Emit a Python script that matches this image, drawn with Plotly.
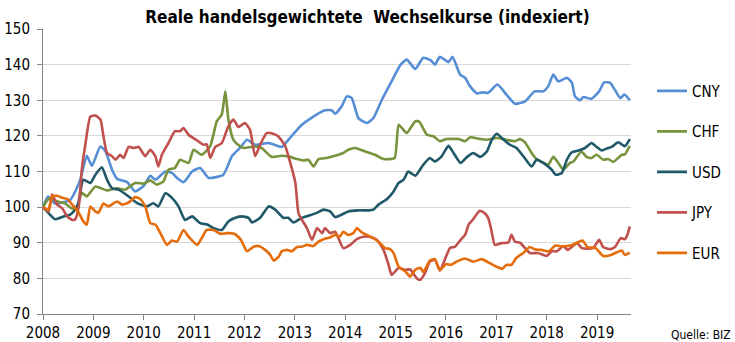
import plotly.graph_objects as go

# ---- data (decimal years, index values) ----
years = [2008, 2009, 2010, 2011, 2012, 2013, 2014, 2015, 2016, 2017, 2018, 2019]
year_labels = [str(y) for y in years]
series_names = ["CNY", "CHF", "USD", "JPY", "EUR"]

cny_t = [2008.0, 2008.1, 2008.24, 2008.54, 2008.64, 2008.74, 2008.87, 2008.97, 2009.14, 2009.24, 2009.37, 2009.47,
         2009.67, 2009.83, 2010.0, 2010.13, 2010.23, 2010.43, 2010.56, 2010.66, 2010.79, 2010.96, 2011.12, 2011.29,
         2011.58, 2011.75, 2011.91, 2012.05, 2012.21, 2012.48, 2012.74, 2012.87, 2013.14, 2013.4, 2013.6, 2013.73,
         2013.8, 2013.93, 2014.03, 2014.13, 2014.26, 2014.43, 2014.56, 2014.73, 2014.92, 2015.1, 2015.22, 2015.39,
         2015.55, 2015.7, 2015.78, 2015.88, 2016.05, 2016.13, 2016.28, 2016.38, 2016.48, 2016.62, 2016.72, 2016.84,
         2017.02, 2017.2, 2017.37, 2017.57, 2017.76, 2017.93, 2018.03, 2018.13, 2018.23, 2018.4, 2018.5, 2018.56,
         2018.66, 2018.73, 2018.89, 2019.04, 2019.14, 2019.26, 2019.46, 2019.54, 2019.65]
cny_v = [100, 103, 101, 102, 104.4, 107.7, 114.4, 111.6, 117, 115.7, 110.5, 108,
         107, 104.4, 106, 108.8, 107.7, 110, 109.6, 108.2, 107, 110, 111, 108.2,
         109.1, 114.3, 116.6, 118.9, 117.5, 118, 116.9, 118.9, 123.1, 125.7, 127.2, 127.2,
         126.2, 128.3, 131.1, 130.6, 125, 123.6, 125, 130.2, 135.3, 140, 141.4, 138.8,
         141.9, 141.2, 140, 142.2, 140.7, 142.2, 137.2, 136.3, 133.9, 131.9, 132.2, 132.1,
         134.4, 131.6, 129, 129.7, 132.5, 132.5, 133.9, 137.2, 135.3, 136.3, 134.9, 131.1,
         130, 130.9, 130.4, 132.5, 135, 134.9, 130.6, 131.6, 130]

chf_t = [2008.0, 2008.12, 2008.31, 2008.44, 2008.58, 2008.68, 2008.77, 2008.87, 2009.04, 2009.27, 2009.47, 2009.63,
         2009.83, 2010.0, 2010.13, 2010.26, 2010.39, 2010.49, 2010.62, 2010.72, 2010.89, 2010.99, 2011.15, 2011.32,
         2011.45, 2011.55, 2011.62, 2011.68, 2011.78, 2011.91, 2011.98, 2012.21, 2012.34, 2012.54, 2012.74, 2012.91,
         2013.04, 2013.17, 2013.27, 2013.37, 2013.47, 2013.63, 2013.8, 2013.96, 2014.06, 2014.2, 2014.36, 2014.59,
         2014.76, 2014.98, 2015.06, 2015.22, 2015.39, 2015.47, 2015.62, 2015.75, 2015.88, 2016.01, 2016.25, 2016.38,
         2016.48, 2016.68, 2016.81, 2017.01, 2017.2, 2017.37, 2017.47, 2017.57, 2017.7, 2017.8, 2017.93, 2018.03,
         2018.13, 2018.23, 2018.33, 2018.46, 2018.53, 2018.69, 2018.79, 2018.89, 2018.99, 2019.12, 2019.22, 2019.32,
         2019.49, 2019.55, 2019.65]
chf_v = [100, 102.4, 101.5, 101, 99.6, 100, 104, 103, 105.8, 104.7, 105.3, 104.9,
         106.8, 106.6, 107.5, 106.3, 107.2, 110.5, 111, 113.3, 112.4, 116.1, 114.7, 117.1,
         124.1, 126, 132.5, 124.6, 118.9, 117.1, 116.6, 117, 116.6, 114.1, 114.4, 114.1,
         113.5, 113.1, 113.3, 111.4, 113.5, 113.8, 114.4, 115.2, 116.1, 116.6, 115.8, 114.7,
         113.5, 113.8, 123.1, 120.8, 124.1, 124, 120.3, 119.9, 118.5, 119.1, 119.1, 118.5,
         119.6, 119.1, 118.9, 119.4, 118.9, 118.5, 119.1, 118.2, 115.2, 113.5, 112.5, 111.9,
         114.1, 112.4, 110.5, 112.4, 112.8, 115.6, 114.1, 113.8, 114.7, 113.3, 113.5, 112.7,
         114.7, 114.8, 117.2]

usd_t = [2008.0, 2008.11, 2008.24, 2008.41, 2008.54, 2008.61, 2008.7, 2008.8, 2008.94, 2009.04, 2009.17, 2009.27,
         2009.37, 2009.5, 2009.7, 2009.87, 2010.06, 2010.19, 2010.29, 2010.43, 2010.56, 2010.69, 2010.82, 2010.96,
         2011.12, 2011.26, 2011.39, 2011.55, 2011.68, 2011.82, 2011.95, 2012.08, 2012.15, 2012.31, 2012.48, 2012.61,
         2012.77, 2012.87, 2012.97, 2013.14, 2013.27, 2013.44, 2013.57, 2013.7, 2013.8, 2013.93, 2014.06, 2014.26,
         2014.46, 2014.56, 2014.66, 2014.83, 2014.96, 2015.06, 2015.16, 2015.25, 2015.39, 2015.55, 2015.68, 2015.78,
         2015.91, 2016.05, 2016.15, 2016.29, 2016.42, 2016.54, 2016.68, 2016.81, 2016.91, 2017.01, 2017.11, 2017.27,
         2017.4, 2017.54, 2017.7, 2017.8, 2017.93, 2018.1, 2018.18, 2018.3, 2018.4, 2018.5, 2018.63, 2018.76,
         2018.89, 2018.99, 2019.09, 2019.22, 2019.29, 2019.42, 2019.55, 2019.65]
usd_v = [100, 98.3, 96.6, 97.4, 97.9, 98.8, 101.1, 107.7, 106.8, 109.1, 111.2, 107.7,
         105.3, 104.9, 103, 101.1, 100.2, 101.1, 100.2, 103.9, 102.6, 100.2, 96.4, 97.4,
         95.5, 95.1, 94.1, 93.6, 96, 97, 97.4, 97, 95.7, 97, 100.2, 99.3,
         97, 97, 95.7, 97, 97.6, 98.4, 99.3, 98.8, 97.2, 97.9, 98.8, 99.1,
         99.1, 99.3, 100.7, 102.3, 104.4, 106.8, 107.7, 110, 108.8, 111.9, 113.8, 112.8,
         114.2, 117.2, 115.2, 112.4, 114.1, 115.2, 114.1, 115.6, 118.9, 120.6, 119.4, 117.5,
         116.6, 114.2, 111.4, 113.3, 112.4, 110.5, 109.1, 109.6, 113.3, 115.4, 115.9, 116.6,
         118, 116.9, 115.9, 116.6, 116.9, 118.2, 117.1, 119.1]

jpy_t = [2008.0, 2008.11, 2008.18, 2008.28, 2008.38, 2008.48, 2008.58, 2008.64, 2008.71, 2008.77, 2008.84, 2008.94,
         2009.04, 2009.14, 2009.2, 2009.27, 2009.37, 2009.44, 2009.53, 2009.6, 2009.7, 2009.8, 2009.9, 2010.03,
         2010.13, 2010.23, 2010.29, 2010.36, 2010.49, 2010.62, 2010.72, 2010.79, 2010.89, 2011.06, 2011.19, 2011.25,
         2011.32, 2011.42, 2011.55, 2011.68, 2011.78, 2011.88, 2012.01, 2012.11, 2012.21, 2012.31, 2012.44, 2012.57,
         2012.67, 2012.81, 2012.91, 2013.01, 2013.07, 2013.14, 2013.24, 2013.34, 2013.44, 2013.54, 2013.6, 2013.7,
         2013.8, 2013.96, 2014.1, 2014.23, 2014.36, 2014.49, 2014.63, 2014.76, 2014.86, 2014.92, 2015.06, 2015.19,
         2015.29, 2015.42, 2015.49, 2015.58, 2015.68, 2015.78, 2015.88, 2016.0, 2016.08, 2016.18, 2016.29, 2016.38,
         2016.45, 2016.54, 2016.67, 2016.77, 2016.84, 2016.9, 2016.97, 2017.1, 2017.24, 2017.3, 2017.37, 2017.47,
         2017.57, 2017.67, 2017.83, 2018.0, 2018.1, 2018.2, 2018.33, 2018.42, 2018.6, 2018.7, 2018.92, 2019.04,
         2019.12, 2019.26, 2019.36, 2019.47, 2019.55, 2019.6, 2019.65]
jpy_v = [100, 98.8, 103.5, 100.7, 99.7, 97.4, 96.4, 96.6, 100.2, 110.5, 117.5, 125.4,
         125.7, 124.6, 119.9, 115.2, 114.3, 113.3, 114.7, 113.8, 116.9, 116.6, 116.9, 114.3,
         116.1, 114.3, 111.4, 114.7, 118, 121.3, 121.3, 122.2, 120.3, 118.7, 117.5, 117.6,
         113.8, 116.9, 118, 122.7, 124.6, 122.5, 123.6, 121.7, 114.3, 117.5, 120.8, 120.6,
         119.9, 117.1, 112.4, 106.8, 98.4, 96.4, 94.1, 90.8, 94.1, 92.7, 94.1, 92.7,
         93.1, 88.5, 89.4, 91, 91.7, 91.7, 90.8, 88, 83.8, 81, 82.9, 82.4,
         82.5, 80, 79.6, 81.4, 84.7, 85.2, 82.2, 86.1, 88.5, 88.9, 90.8, 92.2,
         95.1, 96.6, 99, 98.3, 96.9, 93.6, 89.4, 89.9, 90.1, 92.2, 90.3, 90,
         88.5, 87.1, 87.1, 86.3, 87.6, 87.6, 89, 88, 89.9, 88.5, 88.5, 90.8,
         88.8, 88.2, 88.9, 91.3, 91, 92.2, 94.6]

eur_t = [2008.0, 2008.11, 2008.18, 2008.28, 2008.38, 2008.48, 2008.58, 2008.71, 2008.8, 2008.87, 2008.94, 2009.04,
         2009.1, 2009.2, 2009.3, 2009.47, 2009.57, 2009.7, 2009.83, 2009.93, 2010.03, 2010.13, 2010.23, 2010.33,
         2010.46, 2010.56, 2010.66, 2010.79, 2010.89, 2011.06, 2011.15, 2011.25, 2011.39, 2011.52, 2011.65, 2011.78,
         2011.85, 2011.93, 2012.05, 2012.18, 2012.28, 2012.41, 2012.51, 2012.58, 2012.68, 2012.74, 2012.84, 2012.94,
         2013.04, 2013.14, 2013.24, 2013.37, 2013.47, 2013.57, 2013.7, 2013.8, 2013.89, 2013.96, 2014.06, 2014.16,
         2014.23, 2014.33, 2014.43, 2014.56, 2014.66, 2014.79, 2014.89, 2014.96, 2015.06, 2015.19, 2015.29, 2015.39,
         2015.49, 2015.55, 2015.68, 2015.78, 2015.88, 2016.0, 2016.1, 2016.21, 2016.38, 2016.54, 2016.71, 2016.84,
         2016.97, 2017.12, 2017.2, 2017.3, 2017.4, 2017.54, 2017.66, 2017.77, 2017.9, 2018.04, 2018.17, 2018.3,
         2018.49, 2018.6, 2018.71, 2018.81, 2018.97, 2019.12, 2019.26, 2019.36, 2019.49, 2019.55, 2019.65]
eur_v = [100, 99.3, 103, 103.2, 102.6, 102.3, 100.7, 98.4, 96, 95.1, 100.2, 98.8,
         98.4, 101, 100.2, 101.6, 100.7, 101.3, 102.8, 102.3, 100.2, 95.5, 95.1, 92.7,
         89.4, 90.6, 90.3, 93.6, 91.7, 89.4, 91.3, 93.6, 93.6, 92.5, 92.7, 92.6,
         92, 90.8, 87.6, 88.9, 89.1, 88, 86.6, 85, 86.1, 87.6, 88, 87.6,
         88.8, 88.9, 89.4, 89.1, 90.3, 91, 91.5, 92.2, 91.7, 93.1, 92.2, 92.7,
         94.1, 92.9, 92.2, 91.3, 90.3, 88.5, 88.2, 87.1, 83.3, 82, 80.5, 82.4,
         83, 81.8, 85, 85.4, 82.3, 84, 83.8, 84.7, 85.6, 84.7, 85.4, 84.5,
         83.5, 82.7, 83.8, 83.8, 85.8, 87.2, 88.8, 88.1, 88, 87.6, 89.2, 89,
         89.3, 90, 90.6, 88.8, 88.5, 86.3, 86.5, 87.1, 87.8, 86.6, 87.2]

series_t = [cny_t, chf_t, usd_t, jpy_t, eur_t]
series_v = [cny_v, chf_v, usd_v, jpy_v, eur_v]
colors = ["#558ED5", "#77933C", "#1F5968", "#C0504D", "#E46C0A"]

FONT = "Liberation Sans Narrow, DejaVu Sans Condensed, Arial Narrow, sans-serif"

fig = go.Figure()
for name, t, v, c in zip(series_names, series_t, series_v, colors):
    fig.add_trace(go.Scatter(
        x=t, y=v, mode="lines", name=name, legendgroup=name,
        line=dict(color=c, width=2.6, shape="spline", smoothing=0.5),
    ))

fig.update_layout(
    width=735, height=342,
    margin=dict(l=43, r=104, t=29, b=28, autoexpand=False),
    paper_bgcolor="white", plot_bgcolor="white",
    title=dict(text="Reale handelsgewichtete  Wechselkurse (indexiert)",
               x=0.5, xanchor="center", xref="container",
               y=1 - 17 / 342, yanchor="middle", yref="container",
               font=dict(family=FONT, size=17, color="#000000", weight="bold")),
    font=dict(family=FONT, size=15, color="#000000"),
    showlegend=True,
    legend=dict(x=(652 - 43) / 588, xanchor="left", y=(314 - 75) / 284.5, yanchor="top",
                traceorder="grouped", tracegroupgap=18,
                font=dict(family=FONT, size=15, color="#000000"),
                bgcolor="rgba(0,0,0,0)"),
    xaxis=dict(range=[2008, 2019.673], tickmode="array", tickvals=years, ticktext=year_labels,
               showgrid=False, zeroline=False, showline=True, linecolor="#868686", linewidth=1,
               ticks="outside", ticklen=5, tickcolor="#868686",
               tickfont=dict(family=FONT, size=15, color="#000000")),
    yaxis=dict(range=[70, 150], tickmode="linear", tick0=70, dtick=10,
               showgrid=True, gridcolor="#D9D9D9", gridwidth=1, zeroline=False,
               showline=True, linecolor="#868686", linewidth=1,
               ticks="outside", ticklen=5, tickcolor="#868686", ticklabelstandoff=4,
               tickfont=dict(family=FONT, size=15, color="#000000")),
    annotations=[dict(text="Quelle: BIZ", xref="paper", yref="paper",
                      x=(733 - 43) / 588, y=(314 - 335) / 284.5,
                      xanchor="right", yanchor="middle", showarrow=False,
                      font=dict(family=FONT, size=12, color="#000000"))],
)

fig.write_html("out.html")
